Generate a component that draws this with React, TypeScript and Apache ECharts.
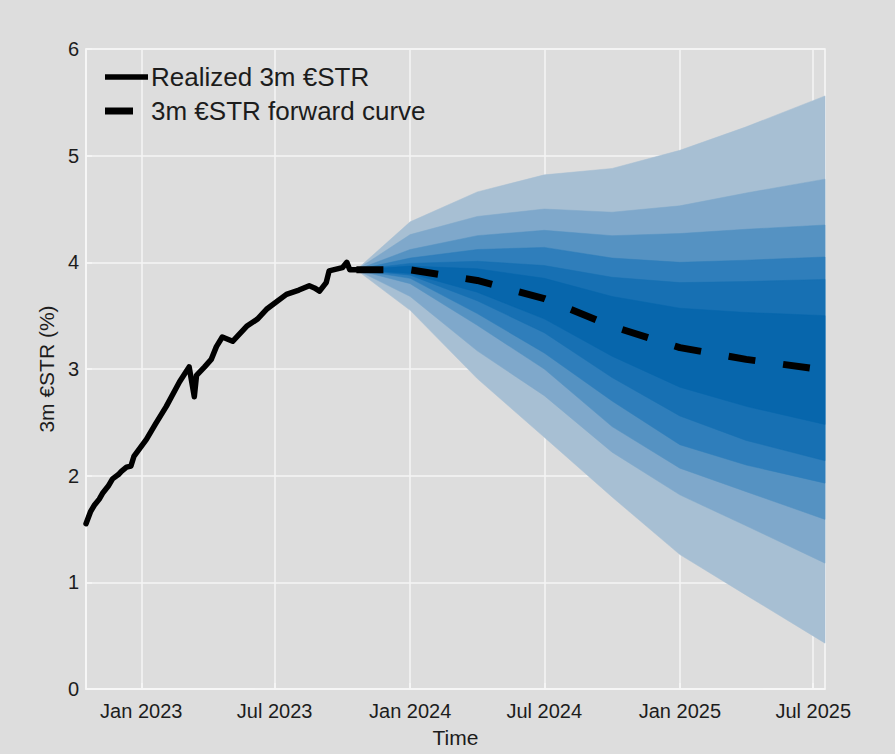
import React, { useEffect, useRef } from "react";
import * as echarts from "echarts";

const realizedDates = ["2022-10-18","2022-10-24","2022-10-29","2022-11-05","2022-11-10","2022-11-17","2022-11-23","2022-12-01","2022-12-05","2022-12-12","2022-12-18","2022-12-22","2023-01-08","2023-01-20","2023-02-04","2023-02-22","2023-03-07","2023-03-14","2023-03-17","2023-03-28","2023-04-06","2023-04-13","2023-04-21","2023-05-05","2023-05-24","2023-06-08","2023-06-20","2023-07-17","2023-08-03","2023-08-17","2023-08-24","2023-08-31","2023-09-09","2023-09-13","2023-10-01","2023-10-07","2023-10-11","2023-10-24"];
const realizedValues = [1.55,1.66,1.72,1.78,1.84,1.90,1.97,2.01,2.04,2.08,2.09,2.18,2.34,2.48,2.65,2.88,3.02,2.74,2.94,3.02,3.09,3.21,3.30,3.26,3.40,3.47,3.56,3.70,3.74,3.78,3.76,3.73,3.81,3.92,3.95,4.00,3.93,3.93];

const fanDates = ["2023-10-20","2024-01-01","2024-04-01","2024-07-01","2024-10-01","2025-01-01","2025-04-01","2025-07-17"];
const forwardCurve = [3.93, 3.93, 3.83, 3.66, 3.40, 3.20, 3.09, 2.99];

// band edges, outermost (1) to innermost (6)
const upper1 = [3.93, 4.38, 4.66, 4.82, 4.88, 5.05, 5.27, 5.56];
const upper2 = [3.93, 4.26, 4.43, 4.50, 4.47, 4.53, 4.65, 4.78];
const upper3 = [3.93, 4.12, 4.25, 4.30, 4.25, 4.27, 4.31, 4.35];
const upper4 = [3.93, 4.04, 4.12, 4.14, 4.04, 4.00, 4.02, 4.05];
const upper5 = [3.93, 3.99, 4.01, 3.97, 3.86, 3.81, 3.82, 3.84];
const upper6 = [3.93, 3.965, 3.94, 3.85, 3.68, 3.57, 3.53, 3.50];
const lower1 = [3.93, 3.55, 2.91, 2.36, 1.80, 1.26, 0.88, 0.43];
const lower2 = [3.93, 3.68, 3.17, 2.75, 2.22, 1.82, 1.53, 1.18];
const lower3 = [3.93, 3.80, 3.41, 3.00, 2.46, 2.07, 1.85, 1.59];
const lower4 = [3.93, 3.85, 3.52, 3.15, 2.70, 2.29, 2.10, 1.93];
const lower5 = [3.93, 3.88, 3.64, 3.34, 2.92, 2.56, 2.33, 2.14];
const lower6 = [3.93, 3.895, 3.72, 3.47, 3.12, 2.83, 2.65, 2.48];

const bandColors = ["#a7bfd3", "#7fa8cb", "#5592c2", "#2f7ebb", "#1770b3", "#0766ac"];

const xTickDates = ["2023-01-01","2023-07-01","2024-01-01","2024-07-01","2025-01-01","2025-07-01"];
const xTickLabels = ["Jan 2023","Jul 2023","Jan 2024","Jul 2024","Jan 2025","Jul 2025"];
const xMinDate = "2022-10-18";
const xMaxDate = "2025-07-17";

const ts = (s: string) => {
  const [y, m, d] = s.split("-").map(Number);
  return new Date(y, m - 1, d).getTime();
};

const FONT = "'Liberation Sans', Arial, Helvetica, sans-serif";
const TEXT = "#1c1c1c";

export default function App() {
  const ref = useRef<HTMLDivElement>(null);
  useEffect(() => {
    if (!ref.current) return;
    const chart = echarts.init(ref.current, undefined, { renderer: "svg" });
    const uppers = [upper1, upper2, upper3, upper4, upper5, upper6];
    const lowers = [lower1, lower2, lower3, lower4, lower5, lower6];
    const fanX = fanDates.map(ts);
    const tickVals = xTickDates.map(ts);
    chart.setOption({
      animation: false,
      backgroundColor: "#dddddd",
      grid: {
        left: 86, right: 70, top: 49, bottom: 65,
        show: true, borderColor: "#f7f7f7", borderWidth: 1.5, backgroundColor: "transparent",
      },
      xAxis: {
        type: "value",
        min: ts(xMinDate),
        max: ts(xMaxDate),
        name: "Time",
        nameLocation: "middle",
        nameGap: 38,
        nameTextStyle: { fontSize: 21, color: TEXT, fontFamily: FONT },
        axisLine: { show: true, lineStyle: { color: "#f7f7f7", width: 1.5 } },
        axisTick: { show: true, inside: true, length: 6, customValues: tickVals, lineStyle: { color: "#f7f7f7", width: 1.5 } },
        axisLabel: {
          customValues: tickVals,
          margin: 12,
          fontSize: 20,
          color: TEXT,
          fontFamily: FONT,
          formatter: (v: number) => {
            const i = tickVals.indexOf(v);
            return i >= 0 ? xTickLabels[i] : "";
          },
        },
        splitLine: { show: true, lineStyle: { color: "#f4f4f4", width: 1.5 } },
      },
      yAxis: {
        type: "value",
        min: 0, max: 6, interval: 1,
        name: "3m €STR (%)",
        nameLocation: "middle",
        nameGap: 22,
        nameTextStyle: { fontSize: 21, color: TEXT, fontFamily: FONT },
        axisLine: { show: true, lineStyle: { color: "#f7f7f7", width: 1.5 } },
        axisTick: { show: true, inside: true, length: 6, lineStyle: { color: "#f7f7f7", width: 1.5 } },
        axisLabel: { margin: 7, fontSize: 20, color: TEXT, fontFamily: FONT },
        splitLine: { show: true, lineStyle: { color: "#f4f4f4", width: 1.5 } },
      },
      series: [
        {
          type: "custom",
          silent: true,
          z: 2,
          data: uppers.map(() => [fanX[0], forwardCurve[0]]),
          renderItem: (params: any, api: any) => {
            const k = params.dataIndex;
            const u = uppers[k];
            const l = lowers[k];
            const pts: number[][] = [];
            for (let i = 0; i < fanX.length; i++) pts.push(api.coord([fanX[i], u[i]]));
            for (let i = fanX.length - 1; i >= 0; i--) pts.push(api.coord([fanX[i], l[i]]));
            return {
              type: "polygon",
              shape: { points: pts },
              style: { fill: bandColors[k], stroke: bandColors[k], lineWidth: 0.5 },
            };
          },
        },
        {
          type: "line",
          name: "Realized 3m €STR",
          data: realizedDates.map((d, i) => [ts(d), realizedValues[i]]),
          symbol: "none",
          lineStyle: { color: "#000", width: 5.5, join: "round", cap: "round" },
          z: 5,
        },
        {
          type: "line",
          name: "3m €STR forward curve",
          data: fanDates.map((d, i) => [ts(d), forwardCurve[i]]),
          symbol: "none",
          lineStyle: { color: "#000", width: 7, type: [27, 28], cap: "butt" },
          z: 5,
        },
      ],
      graphic: [
        { type: "line", shape: { x1: 105, y1: 77, x2: 148, y2: 77 }, style: { stroke: "#000", lineWidth: 5.5 }, z: 10 },
        { type: "text", x: 151, y: 77, style: { text: "Realized 3m €STR", fontSize: 26, fill: TEXT, fontFamily: FONT, verticalAlign: "middle" }, z: 10 },
        { type: "line", shape: { x1: 105, y1: 111, x2: 133, y2: 111 }, style: { stroke: "#000", lineWidth: 7 }, z: 10 },
        { type: "text", x: 151, y: 111, style: { text: "3m €STR forward curve", fontSize: 26, fill: TEXT, fontFamily: FONT, verticalAlign: "middle" }, z: 10 },
      ],
    });
    return () => chart.dispose();
  }, []);
  return (
    <div
      ref={ref}
      style={{ position: "fixed", left: 0, top: 0, width: 895, height: 754, background: "#dddddd" }}
    />
  );
}
